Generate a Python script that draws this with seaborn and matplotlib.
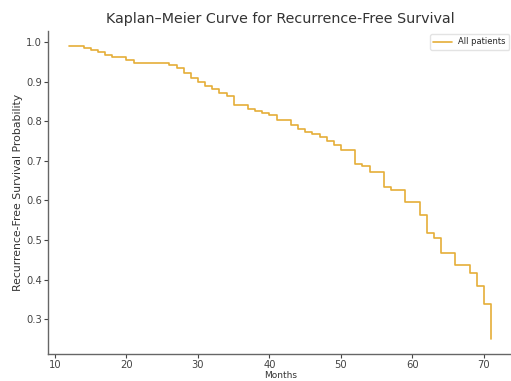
import pandas as pd
import seaborn as sns
import matplotlib.pyplot as plt

# Kaplan-Meier step values (month of event, survival after it)
months = [12, 14, 15, 16, 17, 18, 20, 21, 26, 27, 28, 29, 30, 31, 32, 33, 34, 35,
          37, 38, 39, 40, 41, 43, 44, 45, 46, 47, 48, 49, 50, 52, 53, 54, 56, 57,
          59, 61, 62, 63, 64, 66, 68, 69, 70, 71]
survival = [0.990, 0.984, 0.979, 0.974, 0.968, 0.962, 0.955, 0.946, 0.942, 0.934,
            0.922, 0.910, 0.899, 0.889, 0.880, 0.872, 0.863, 0.841, 0.830, 0.826,
            0.820, 0.815, 0.803, 0.790, 0.780, 0.773, 0.767, 0.759, 0.751, 0.740,
            0.726, 0.692, 0.686, 0.672, 0.634, 0.626, 0.597, 0.563, 0.518, 0.504,
            0.467, 0.437, 0.416, 0.385, 0.338, 0.250]
group = "All patients"

df = pd.DataFrame({"Months": months, "Survival": survival, "group": group})

sns.set_style("ticks")
plt.rcParams['font.family'] = ['DejaVu Sans']

fig = plt.figure(figsize=(5.11, 3.81), dpi=100)
ax = fig.add_axes([0.0943, 0.0715, 0.908, 0.8466])

sns.lineplot(data=df, x="Months", y="Survival", hue="group",
             palette=["#E5AE38"], drawstyle="steps-post", linewidth=1.2, ax=ax)

ax.set_title("Kaplan\u2013Meier Curve for Recurrence-Free Survival",
             fontsize=10.3, color="#333333")
ax.set_xlabel("Months", fontsize=6.5, color="#333333", labelpad=0.5)
ax.set_ylabel("Recurrence-Free Survival Probability", fontsize=7.8,
              color="#333333", labelpad=2)
ax.tick_params(labelsize=7.2, colors="#444444", length=3, width=0.8, pad=1.5)
for s in ["left", "bottom"]:
    ax.spines[s].set_color("#666666")
    ax.spines[s].set_linewidth(1.0)
sns.despine(ax=ax)

leg = ax.legend(loc="upper right", fontsize=6, frameon=True, handlelength=2.2,
                borderaxespad=0.35)
leg.get_frame().set_edgecolor("#dddddd")

fig.savefig("out.png", dpi=100)
